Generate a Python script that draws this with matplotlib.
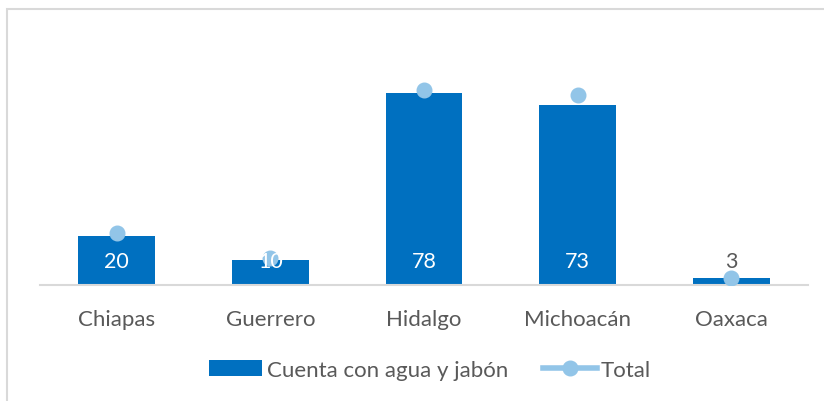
import numpy as np
import matplotlib
matplotlib.use("Agg")
from matplotlib import pyplot as plt
from matplotlib.patches import Rectangle
from matplotlib.lines import Line2D
from matplotlib.patches import Patch

estados = ["Chiapas", "Guerrero", "Hidalgo", "Michoacán", "Oaxaca"]
agua_jabon = [20, 10, 78, 73, 3]
total = [21, 11, 79, 77, 3]

azul = "#0070C0"
celeste = "#92C5E8"
gris = "#595959"

plt.rcParams['font.family'] = ['Lato', 'DejaVu Sans']

fig = plt.figure(figsize=(8.24, 4.02), dpi=100)
ax = fig.add_axes([40 / 824, 116 / 402, 768 / 824, 222 / 402])

x = np.arange(len(estados))
ax.bar(x, agua_jabon, width=0.5, color=azul, zorder=2)
ax.plot(x, total, linestyle="none", marker="o", markersize=10.5,
        color=celeste, zorder=3)

# etiquetas de datos cerca de la base
for xi, v in zip(x, agua_jabon):
    col = "white" if v > 8 else gris
    ax.text(xi, 9.8, str(v), ha="center", va="center", fontsize=15.5,
            color=col, zorder=4)

ax.set_xlim(-0.5, 4.5)
ax.set_ylim(0, 90)
ax.set_yticks([])
ax.set_xticks(x)
ax.set_xticklabels(estados, fontsize=16, color=gris)
ax.tick_params(axis="x", length=0, pad=17)
for s in ["top", "right", "left"]:
    ax.spines[s].set_visible(False)
ax.spines["bottom"].set_color("#D9D9D9")
ax.spines["bottom"].set_linewidth(1.5)

handles = [Patch(facecolor=azul, edgecolor="none"),
           Line2D([0], [0], color=celeste, lw=4, marker="o", markersize=10.5)]
fig.legend(handles, ["Cuenta con agua y jabón", "Total"], loc="center",
           bbox_to_anchor=(430 / 824, 1 - 371 / 402), ncol=2, frameon=False,
           fontsize=16, labelcolor=gris, handlelength=2.4, handletextpad=0.2,
           columnspacing=1.6)

# marco del gráfico
fig.add_artist(Rectangle((7 / 824, -0.1), 1.2, 1.1 - 10 / 402,
                         transform=fig.transFigure, facecolor="none",
                         edgecolor="#D9D9D9", lw=1.5))

fig.savefig("out.png", dpi=100)
